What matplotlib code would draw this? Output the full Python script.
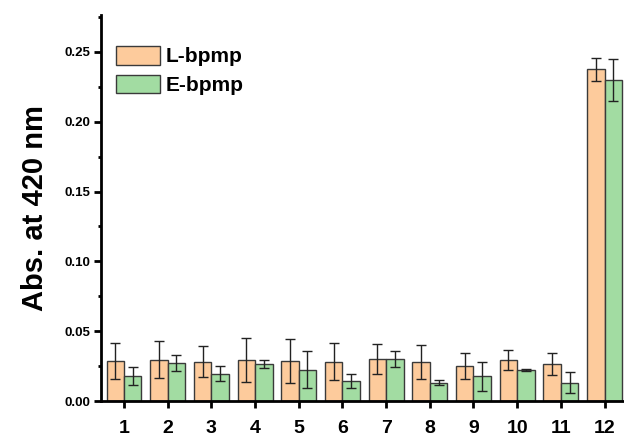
import matplotlib
matplotlib.use("Agg")
import matplotlib.pyplot as plt
import numpy as np

plt.rcParams['font.family'] = ['Liberation Sans', 'DejaVu Sans']
plt.rcParams['font.weight'] = 'bold'

categories = ['1', '2', '3', '4', '5', '6', '7', '8', '9', '10', '11', '12']
l_bpmp = [0.0286, 0.0295, 0.0281, 0.0295, 0.0288, 0.0281, 0.0300, 0.0279, 0.0248, 0.0295, 0.0264, 0.2376]
l_err = [0.0129, 0.0133, 0.0112, 0.0157, 0.0157, 0.0131, 0.0105, 0.0119, 0.0093, 0.0071, 0.0079, 0.0082]
e_bpmp = [0.0179, 0.0271, 0.0195, 0.0264, 0.0224, 0.0143, 0.0300, 0.0131, 0.0176, 0.0224, 0.0131, 0.2300]
e_err = [0.0064, 0.0057, 0.0055, 0.0030, 0.0133, 0.0050, 0.0057, 0.0017, 0.0102, 0.0007, 0.0076, 0.0148]
series_names = ['L-bpmp', 'E-bpmp']

W, H = 624, 437
fig = plt.figure(figsize=(W / 100, H / 100), dpi=100)
ax = fig.add_axes([101 / W, (H - 401) / H, (W - 101) / W, (401 - 15) / H])

x = np.arange(1, len(categories) + 1)
bw = 0.40
err_kw = dict(ecolor='#222222', elinewidth=1.0, capsize=3.5, capthick=1.0)
ax.bar(x - bw / 2, l_bpmp, bw, yerr=l_err, color='#FDCB9C', edgecolor='#3a3a3a',
       linewidth=1.0, label=series_names[0], error_kw=err_kw, zorder=2)
ax.bar(x + bw / 2, e_bpmp, bw, yerr=e_err, color='#A2DCA2', edgecolor='#3a3a3a',
       linewidth=1.0, label=series_names[1], error_kw=err_kw, zorder=2)

ax.set_xlim(1 - 23 / 43.73, 12 + 19.5 / 43.73)
ax.set_ylim(0, 0.2765)
ax.set_xticks(x)
ax.set_xticklabels(categories, fontsize=14, fontweight='bold')
ax.set_yticks([0.0, 0.05, 0.10, 0.15, 0.20, 0.25])
ax.set_yticklabels(['0.00', '0.05', '0.10', '0.15', '0.20', '0.25'], fontsize=9.5, fontweight='bold')
ax.set_yticks(np.arange(0.025, 0.28, 0.05), minor=True)

for s in ['top', 'right']:
    ax.spines[s].set_visible(False)
for s in ['left', 'bottom']:
    ax.spines[s].set_linewidth(2.0)
    ax.spines[s].set_color('black')

ax.tick_params(axis='y', which='major', direction='out', length=5, width=2, pad=3)
ax.tick_params(axis='y', which='minor', direction='out', length=2.5, width=2)
ax.tick_params(axis='x', which='major', direction='out', length=5, width=2, pad=9)

ax.set_ylabel('Abs. at 420 nm', fontsize=21, fontweight='bold', labelpad=11)

ax.legend(loc='upper left', bbox_to_anchor=(0.0287, 0.92), frameon=False,
          prop={'size': 15, 'weight': 'bold'}, handlelength=2.1, handleheight=1.0,
          handletextpad=0.3, labelspacing=0.4, borderpad=0, borderaxespad=0)

fig.savefig('out.png', dpi=100)
